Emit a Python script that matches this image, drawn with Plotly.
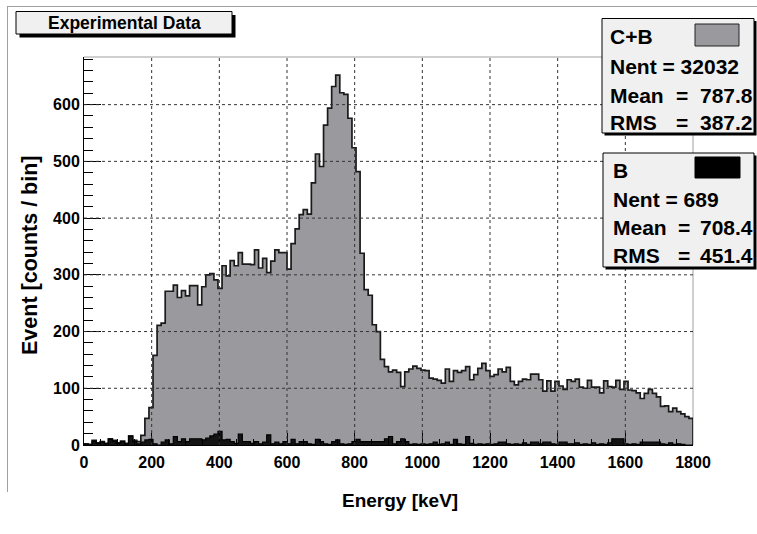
import numpy as np
import plotly.graph_objects as go

# ---------------- data ----------------
energy_min = 0
energy_max = 1800
n_bins = 150

# C+B spectrum (counts / bin)
counts_cb = [
    2, 1, 8, 4, 6, 3, 11, 8, 4, 7, 3, 16, 8, 6, 17, 47, 66, 158, 211, 215,
    271, 271, 282, 260, 272, 263, 281, 281, 247, 279, 300, 302, 291, 276, 316, 298, 325, 316, 339, 319,
    319, 318, 344, 312, 329, 304, 324, 344, 339, 339, 310, 355, 381, 406, 415, 407, 462, 513, 491, 564,
    594, 632, 652, 621, 618, 576, 524, 482, 338, 274, 264, 212, 200, 151, 138, 129, 132, 128, 103, 129,
    134, 139, 135, 132, 131, 118, 116, 114, 109, 134, 112, 131, 128, 131, 138, 115, 124, 135, 144, 131,
    121, 124, 134, 129, 137, 112, 106, 112, 116, 115, 125, 125, 115, 95, 113, 95, 112, 104, 98, 115,
    112, 116, 102, 100, 114, 102, 102, 92, 113, 103, 102, 114, 98, 112, 97, 96, 92, 82, 91, 98,
    91, 85, 68, 69, 59, 65, 59, 55, 50, 47,
]

# B (background) spectrum (counts / bin)
counts_b = [
    1, 0, 7, 3, 5, 2, 10, 7, 3, 6, 2, 15, 6, 2, 5, 9, 10, 2, 0, 5,
    9, 2, 15, 6, 11, 6, 11, 11, 11, 9, 12, 16, 19, 24, 9, 10, 6, 3, 19, 6,
    6, 3, 6, 2, 5, 18, 2, 5, 2, 6, 2, 10, 2, 6, 6, 2, 1, 10, 6, 2,
    1, 6, 9, 2, 1, 2, 6, 10, 6, 6, 6, 6, 6, 6, 11, 15, 2, 6, 11, 6,
    1, 2, 1, 2, 1, 2, 5, 1, 2, 5, 1, 10, 2, 1, 15, 3, 1, 2, 1, 2,
    1, 2, 5, 5, 2, 1, 2, 1, 4, 1, 5, 5, 2, 5, 5, 2, 1, 5, 5, 2,
    2, 4, 1, 2, 1, 4, 1, 2, 1, 4, 11, 11, 11, 2, 1, 2, 1, 5, 5, 5,
    5, 5, 2, 1, 4, 1, 2, 1, 0, 0,
]

x_ticks = [0, 200, 400, 600, 800, 1000, 1200, 1400, 1600, 1800]
y_ticks = [0, 100, 200, 300, 400, 500, 600]

title_text = "Experimental Data"
x_title = "Energy [keV]"
y_title = "Event [counts / bin]"
stats_cb = {"name": "C+B", "Nent": "32032", "Mean": "787.8", "RMS": "387.2"}
stats_b = {"name": "B", "Nent": "689", "Mean": "708.4", "RMS": "451.4"}

edges = np.linspace(energy_min, energy_max, n_bins + 1)

# ---------------- geometry helpers (pixel -> paper) ----------------
W, H = 757, 534
L, R, T, B = 84, 64, 57, 89
PW, PH = W - L - R, H - T - B


def px(X):
    return (X - L) / PW


def py(Y):
    return (H - B - Y) / PH


def step(vals):
    xs = [edges[0]] + list(edges[:-1]) + [edges[-1], edges[-1]]
    ys = [0] + list(vals) + [vals[-1], 0]
    return xs, ys


FONT = "Liberation Sans, Arial, Helvetica, sans-serif"
fill_cb = "#9a9a9e"

fig = go.Figure()
xs, ys = step(counts_cb)
fig.add_trace(go.Scatter(x=xs, y=ys, mode="lines", line_shape="hv",
                         line=dict(color="#1a1a1a", width=1.7),
                         fill="tozeroy", fillcolor=fill_cb, hoverinfo="skip",
                         showlegend=False))
xs, ys = step(counts_b)
fig.add_trace(go.Scatter(x=xs, y=ys, mode="lines", line_shape="hv",
                         line=dict(color="#000000", width=1.2),
                         fill="tozeroy", fillcolor="#141414", hoverinfo="skip",
                         showlegend=False))

shapes = []
# dotted grid drawn above the histogram (as in ROOT)
for xv in x_ticks[1:-1]:
    shapes.append(dict(type="line", xref="x", yref="paper", x0=xv, x1=xv, y0=0, y1=1,
                       line=dict(color="#333333", width=1, dash="dot"), layer="above"))
for yv in y_ticks[1:]:
    shapes.append(dict(type="line", xref="paper", yref="y", x0=0, x1=1, y0=yv, y1=yv,
                       line=dict(color="#333333", width=1, dash="dot"), layer="above"))
# frame (top / right) in light gray
shapes.append(dict(type="line", xref="paper", yref="paper", x0=0, x1=1, y0=1, y1=1,
                   line=dict(color="#a0a0a0", width=1), layer="below"))
shapes.append(dict(type="line", xref="paper", yref="paper", x0=1, x1=1, y0=0, y1=1,
                   line=dict(color="#a0a0a0", width=1), layer="below"))
# canvas border lines
shapes.append(dict(type="line", xref="paper", yref="paper", x0=px(7), x1=px(757), y0=py(6.5), y1=py(6.5),
                   line=dict(color="#a0a0a0", width=1)))
shapes.append(dict(type="line", xref="paper", yref="paper", x0=px(7.5), x1=px(7.5), y0=py(6), y1=py(492),
                   line=dict(color="#a0a0a0", width=1)))


def box(x0, y0, x1, y1, shadow=3, fill="#f0f0f0"):
    shapes.append(dict(type="rect", xref="paper", yref="paper",
                       x0=px(x0 + shadow), x1=px(x1 + shadow), y0=py(y0 + shadow), y1=py(y1 + shadow),
                       fillcolor="#000000", line=dict(width=0), layer="above"))
    shapes.append(dict(type="rect", xref="paper", yref="paper",
                       x0=px(x0), x1=px(x1), y0=py(y0), y1=py(y1),
                       fillcolor=fill, line=dict(color="#000000", width=1), layer="above"))


box(16, 11.5, 232, 34, shadow=3.5)
box(602, 18.5, 754, 133, shadow=2.5)
box(603, 153, 754, 267, shadow=2.5)
shapes.append(dict(type="rect", xref="paper", yref="paper", x0=px(695), x1=px(739), y0=py(24), y1=py(46),
                   fillcolor=fill_cb, line=dict(color="#222222", width=1), layer="above"))
shapes.append(dict(type="rect", xref="paper", yref="paper", x0=px(695), x1=px(740), y0=py(157), y1=py(178),
                   fillcolor="#000000", line=dict(color="#000000", width=1), layer="above"))

annotations = []


def text(X, Y, s, size, anchor="left", angle=0):
    annotations.append(dict(xref="paper", yref="paper", x=px(X), y=py(Y), text=s,
                            xanchor=anchor, yanchor="middle", showarrow=False, textangle=angle,
                            font=dict(family=FONT, size=size, color="#000000", weight="bold")))


text(124, 23, title_text, 17.5, "center")

SZ = 21
text(608, 37, stats_cb["name"], SZ)
text(608, 66, "Nent = " + stats_cb["Nent"], SZ)
text(608, 95, "Mean", SZ)
text(682, 95, "=", SZ, "center")
text(755, 95, stats_cb["Mean"], SZ, "right")
text(608, 123, "RMS", SZ)
text(682, 123, "=", SZ, "center")
text(755, 123, stats_cb["RMS"], SZ, "right")
text(611, 170, stats_b["name"], SZ)
text(611, 199, "Nent = " + stats_b["Nent"], SZ)
text(611, 227, "Mean", SZ)
text(684, 227, "=", SZ, "center")
text(755, 227, stats_b["Mean"], SZ, "right")
text(611, 255, "RMS", SZ)
text(684, 255, "=", SZ, "center")
text(755, 255, stats_b["RMS"], SZ, "right")

# axis titles
text(400, 500, x_title, 19, "center")
text(30, 256, y_title, 21.5, "center", angle=-90)

tickfont = dict(family=FONT, size=16, color="#000000", weight="bold")

fig.update_layout(
    width=W, height=H,
    margin=dict(l=L, r=R, t=T, b=B, pad=0),
    paper_bgcolor="#ffffff", plot_bgcolor="#ffffff",
    shapes=shapes, annotations=annotations,
    xaxis=dict(range=[energy_min, energy_max], tickvals=x_ticks, ticks="inside", ticklen=12,
               tickcolor="#000000", tickwidth=1, showgrid=False, zeroline=False,
               showline=True, linecolor="#000000", linewidth=1, layer="above traces",
               minor=dict(dtick=50, ticks="inside", ticklen=6, tickcolor="#000000", showgrid=False),
               tickfont=tickfont, ticklabelstandoff=3),
    yaxis=dict(range=[0, 684], tickvals=y_ticks, ticks="inside", ticklen=17,
               tickcolor="#000000", tickwidth=1, showgrid=False, zeroline=False,
               showline=True, linecolor="#000000", linewidth=1, layer="above traces",
               minor=dict(dtick=20, ticks="inside", ticklen=8.5, tickcolor="#000000", showgrid=False),
               tickfont=tickfont),
)

fig.write_html("out.html")
